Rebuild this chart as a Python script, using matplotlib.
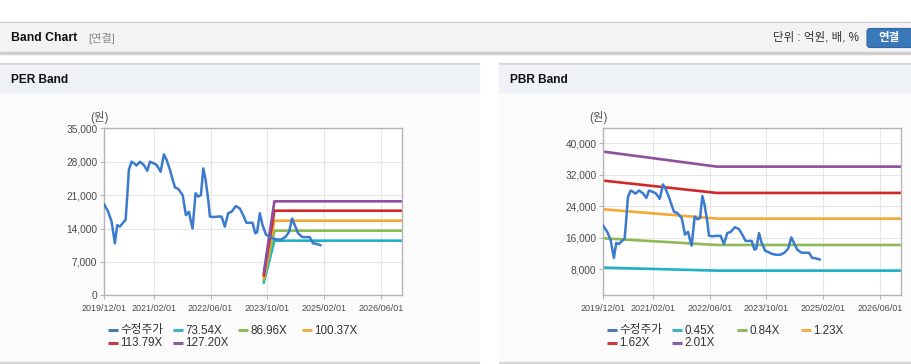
import matplotlib
matplotlib.use("Agg")
import matplotlib.pyplot as plt
from matplotlib.patches import Rectangle, FancyBboxPatch
from matplotlib.lines import Line2D
import numpy as np

plt.rcParams['font.family'] = ['Liberation Sans', 'Noto Sans CJK KR', 'DejaVu Sans']

# ---------------- data ----------------
price_dates = ["2019-12-01", "2020-01-04", "2020-02-02", "2020-03-01", "2020-03-21", "2020-04-13",
               "2020-05-06", "2020-06-01", "2020-06-15", "2020-06-29", "2020-07-22", "2020-08-11",
               "2020-09-03", "2020-10-02", "2020-11-05", "2020-12-04", "2020-12-27", "2021-01-25",
               "2021-02-23", "2021-03-29", "2021-04-26", "2021-05-19", "2021-06-17", "2021-07-07",
               "2021-07-30", "2021-08-27", "2021-10-04", "2021-11-01", "2021-11-27", "2021-12-11",
               "2021-12-28", "2022-01-23", "2022-02-15", "2022-03-10", "2022-03-30", "2022-04-19",
               "2022-05-12", "2022-05-26", "2022-06-23", "2022-08-05", "2022-09-03", "2022-10-01",
               "2022-10-30", "2022-11-28", "2023-01-04", "2023-02-07", "2023-03-08", "2023-04-05",
               "2023-05-27", "2023-06-20", "2023-07-05", "2023-07-29", "2023-08-20", "2023-09-20",
               "2023-10-15", "2023-11-20", "2023-12-24", "2024-01-30", "2024-03-07", "2024-04-05",
               "2024-05-01", "2024-05-24", "2024-06-21", "2024-07-28", "2024-09-29", "2024-10-28",
               "2024-11-25", "2024-12-30"]
price_values = [19000, 17500, 15400, 10900, 14700, 14400,
                15100, 15800, 20700, 26300, 28000, 27700,
                27200, 28000, 27300, 26100, 28000, 27700,
                27300, 25900, 29550, 28400, 26300, 24500,
                22600, 22300, 21000, 16800, 17500, 15800,
                14000, 21400, 20700, 21000, 26600, 24200,
                20000, 16500, 16400, 16500, 16500, 14400,
                17200, 17500, 18700, 18200, 16800, 15200,
                15200, 13000, 13200, 17200, 14800, 12700,
                12400, 11900, 11700, 11700, 12300, 13300,
                16100, 14700, 13000, 12200, 12200, 10900,
                10800, 10500]

per_band_dates = ["2023-09-01", "2023-12-01", "2026-12-01"]
per_labels = ["73.54X", "86.96X", "100.37X", "113.79X", "127.20X"]
per_band_values = {
    "73.54X": [2700, 11450, 11450],
    "86.96X": [3200, 13540, 13540],
    "100.37X": [3700, 15640, 15640],
    "113.79X": [4200, 17730, 17730],
    "127.20X": [4700, 19700, 19700],
}

pbr_band_dates = ["2019-12-01", "2022-08-01", "2026-12-01"]
pbr_labels = ["0.45X", "0.84X", "1.23X", "1.62X", "2.01X"]
pbr_band_values = {
    "0.45X": [8420, 7660, 7660],
    "0.84X": [15870, 14180, 14180],
    "1.23X": [23240, 20870, 20870],
    "1.62X": [30520, 27390, 27390],
    "2.01X": [37880, 34070, 34070],
}

x_ticks = ["2019/12/01", "2021/02/01", "2022/06/01", "2023/10/01", "2025/02/01", "2026/06/01"]
per_yticks = [0, 7000, 14000, 21000, 28000, 35000]
pbr_yticks = [8000, 16000, 24000, 32000, 40000]

price_label = "수정주가"
band_colors = ["#1eb2c4", "#8cbb52", "#f5a833", "#d2282a", "#8f4e9d"]
band_legend_colors = ["#3fb1c1", "#93b862", "#e9b14f", "#c43c3c", "#8b5a9b"]
price_color = "#3a7bcf"
price_legend_color = "#4a78b3"

# ---------------- figure ----------------
W, H = 912, 364
fig = plt.figure(figsize=(W / 100, H / 100), dpi=100)
bg = fig.add_axes([0, 0, 1, 1], zorder=-10)
bg.set_xlim(0, W)
bg.set_ylim(H, 0)
bg.axis("off")

# page chrome
bg.add_patch(Rectangle((0, 0), W, H, color="white"))
bg.add_patch(Rectangle((0, 21.5), W, 1.6, color="#c4c4c4"))
bg.add_patch(Rectangle((0, 23), W, 29.5, color="#f3f3f3"))
bg.add_patch(Rectangle((0, 52), W, 1.8, color="#cfcfcf"))
for x0, x1 in [(0, 479), (499, W)]:
    bg.add_patch(Rectangle((x0, 63), x1 - x0, 1.5, color="#d6d6d6"))
    bg.add_patch(Rectangle((x0, 64.5), x1 - x0, 28.5, color="#eef1f5"))
    bg.add_patch(Rectangle((x0, 93), x1 - x0, 268, color="#fbfbfc"))
    bg.add_patch(Rectangle((x0, 361.5), x1 - x0, 1.5, color="#d6d6d6"))

bg.text(11, 38, "Band Chart", fontsize=8.8, fontweight="bold", color="#111111", va="center", ha="left")
bg.text(88, 38, "[연결]", fontsize=8, color="#8a8a8a", va="center", ha="left")
bg.text(859, 38, "단위 : 억원, 배, %", fontsize=8.3, color="#333333", va="center", ha="right")
bg.add_patch(FancyBboxPatch((867, 28.5), 50, 19, boxstyle="round,pad=0,rounding_size=3",
                            facecolor="#3a78ba", edgecolor="#2f66a3", linewidth=0.8))
bg.text(889, 38.5, "연결", fontsize=8.3, fontweight="bold", color="white", va="center", ha="center")

bg.text(11, 80, "PER Band", fontsize=8.6, fontweight="bold", color="#111111", va="center", ha="left")
bg.text(510, 80, "PBR Band", fontsize=8.6, fontweight="bold", color="#111111", va="center", ha="left")

pd_price = np.array(price_dates, dtype="datetime64[D]")
x_tick_dates = np.array([d.replace("/", "-") for d in x_ticks], dtype="datetime64[D]")
xlim = (np.datetime64("2019-12-01"), np.datetime64("2026-12-01"))


def style_axes(ax, yticks, ylim):
    ax.set_facecolor("white")
    ax.set_xlim(*xlim)
    ax.set_ylim(*ylim)
    ax.set_xticks(x_tick_dates)
    ax.set_xticklabels(x_ticks)
    ax.set_yticks(yticks)
    ax.set_yticklabels([f"{v:,}" for v in yticks])
    ax.grid(True, color="#e6e6e6", linewidth=0.8)
    ax.set_axisbelow(True)
    for s in ax.spines.values():
        s.set_color("#b5b5b5")
        s.set_linewidth(1.0)
    ax.tick_params(axis="x", labelsize=6.5, colors="#b5b5b5", labelcolor="#4a4a4a", length=3, pad=3)
    ax.tick_params(axis="y", labelsize=7.3, colors="#b5b5b5", labelcolor="#4a4a4a", length=3, pad=2)


def legend(x_start, labels, colors):
    cols = [x_start, x_start + 65, x_start + 130, x_start + 194]
    rows = [330, 343]
    for i, (lab, col) in enumerate(zip(labels, colors)):
        r, c = divmod(i, 4)
        x = cols[c]
        y = rows[r]
        bg.add_line(Line2D([x, x + 10], [y, y], color=col, linewidth=2.2, solid_capstyle="butt"))
        bg.text(x + 12.5, y + 0.5, lab, fontsize=8.4, color="#333333", va="center", ha="left")


# ---- PER chart ----
ax1 = fig.add_axes([104.3 / W, (H - 295.3) / H, 297.7 / W, 167 / H])
style_axes(ax1, per_yticks, (0, 35000))
ax1.plot(pd_price, price_values, color=price_color, linewidth=1.8, zorder=3)
pdates = np.array(per_band_dates, dtype="datetime64[D]")
for lab, col in zip(per_labels, band_colors):
    ax1.plot(pdates, per_band_values[lab], color=col, linewidth=1.9, zorder=2)
bg.text(99, 117.5, "(원)", fontsize=8.3, color="#555555", va="center", ha="center")
legend(108, [price_label] + per_labels, [price_legend_color] + band_legend_colors)

# ---- PBR chart ----
ax2 = fig.add_axes([603.3 / W, (H - 295.3) / H, 298 / W, 167 / H])
style_axes(ax2, pbr_yticks, (1400, 43800))
ax2.plot(pd_price, price_values, color=price_color, linewidth=1.8, zorder=3)
bdates = np.array(pbr_band_dates, dtype="datetime64[D]")
for lab, col in zip(pbr_labels, band_colors):
    ax2.plot(bdates, pbr_band_values[lab], color=col, linewidth=1.9, zorder=2)
bg.text(598, 117.5, "(원)", fontsize=8.3, color="#555555", va="center", ha="center")
legend(607, [price_label] + pbr_labels, [price_legend_color] + band_legend_colors)

fig.savefig("out.png", dpi=100)
